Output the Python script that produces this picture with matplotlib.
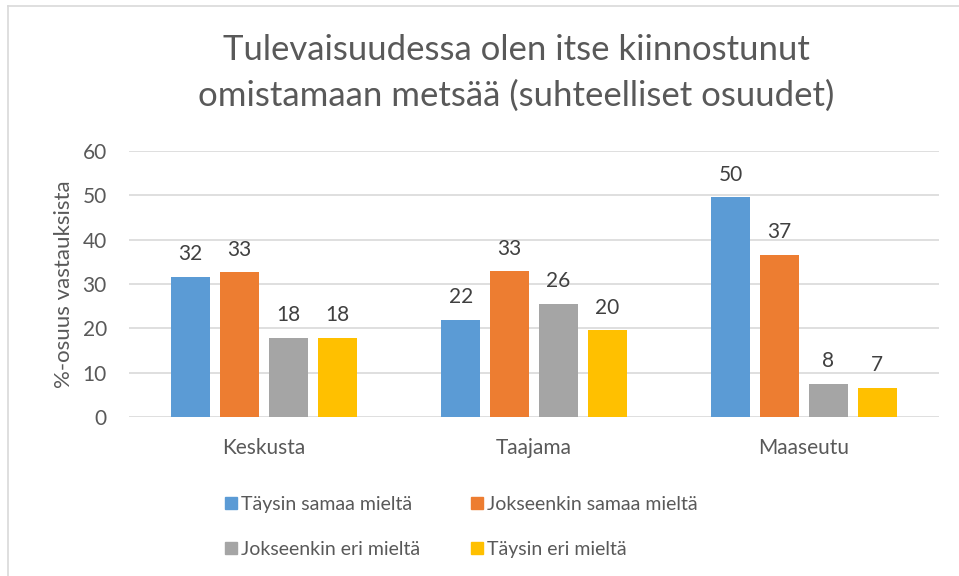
import numpy as np
import matplotlib
matplotlib.use('Agg')
import matplotlib.pyplot as plt
from matplotlib.lines import Line2D

# Data
categories = ['Keskusta', 'Taajama', 'Maaseutu']
series_names = ['Täysin samaa mieltä', 'Jokseenkin samaa mieltä',
                'Jokseenkin eri mieltä', 'Täysin eri mieltä']
taysin_samaa = [31.6, 21.9, 49.5]
jokseenkin_samaa = [32.6, 32.9, 36.6]
jokseenkin_eri = [17.9, 25.6, 7.6]
taysin_eri = [17.9, 19.6, 6.6]
colors = ['#5B9BD5', '#ED7D31', '#A5A5A5', '#FFC000']

title = 'Tulevaisuudessa olen itse kiinnostunut\nomistamaan metsää (suhteelliset osuudet)'
y_label = '%-osuus vastauksista'
y_ticks = [0, 10, 20, 30, 40, 50, 60]

plt.rcParams['font.family'] = ['Lato', 'DejaVu Sans']
text_col = '#595959'

fig = plt.figure(figsize=(9.59, 5.76), dpi=100)
ax = fig.add_axes([129 / 959, 1 - 417.3 / 576, 810 / 959, 266.6 / 576])

values = [taysin_samaa, jokseenkin_samaa, jokseenkin_eri, taysin_eri]
x = np.arange(len(categories))
width = 0.143
step = 0.181
handles = []
for i, (name, vals, c) in enumerate(zip(series_names, values, colors)):
    offs = (i - 1.5) * step
    bars = ax.bar(x + offs, vals, width, color=c, label=name, zorder=3)
    ax.bar_label(bars, fmt='%.0f', padding=9, fontsize=15, color='#404040')
    handles.append(Line2D([], [], marker='s', linestyle='none', markersize=8.5,
                          markerfacecolor=c, markeredgecolor=c, label=name))

ax.set_xlim(-0.5, 2.5)
ax.set_ylim(0, 60)
ax.set_yticks(y_ticks)
ax.set_xticks(x)
ax.set_xticklabels(categories)
ax.tick_params(axis='both', length=0, labelsize=15, labelcolor=text_col)
ax.tick_params(axis='x', pad=15)
ax.tick_params(axis='y', pad=16)
ax.grid(axis='y', color='#D9D9D9', linewidth=1.2, zorder=0)
for s in ax.spines.values():
    s.set_visible(False)
ax.set_ylabel(y_label, fontsize=16, color=text_col, labelpad=6)

fig.text(516 / 959, 1 - 73 / 576, title, ha='center', va='center', fontsize=25,
         color=text_col, linespacing=1.55)

# legend rows: blue/orange on top, gray/yellow below
order = [0, 2, 1, 3]
fig.legend([handles[k] for k in order], [series_names[k] for k in order],
           ncol=2, loc='upper left', bbox_to_anchor=(213 / 959, 1 - 486 / 576),
           frameon=False, fontsize=14, labelcolor=text_col,
           handlelength=0.8, handletextpad=0.15, columnspacing=2.5,
           labelspacing=1.45, borderpad=0)

# light frame on top and left like the original
fig.add_artist(Line2D([8 / 959, 1], [1 - 6 / 576, 1 - 6 / 576],
                      transform=fig.transFigure, color='#D9D9D9', linewidth=1.2))
fig.add_artist(Line2D([8 / 959, 8 / 959], [0, 1 - 6 / 576],
                      transform=fig.transFigure, color='#D9D9D9', linewidth=1.2))

fig.savefig('out.png', dpi=100)
